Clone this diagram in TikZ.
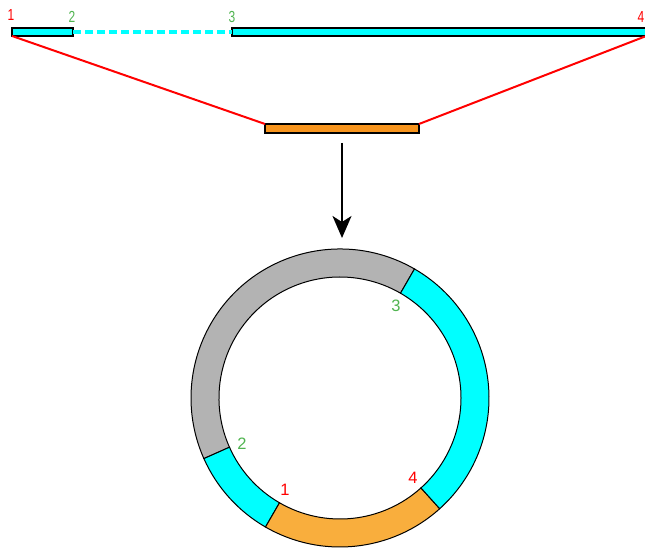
\documentclass[tikz,border=0pt]{standalone}
\usepackage{fontspec}
\setmainfont{Liberation Sans}
\usetikzlibrary{arrows.meta,calc}
\definecolor{cyanfill}{RGB}{0,255,255}
\definecolor{grayfill}{RGB}{179,179,179}
\definecolor{orangebar}{RGB}{247,148,29}
\definecolor{orangering}{RGB}{249,174,61}
\definecolor{labgreen}{RGB}{80,180,80}
\definecolor{labred}{RGB}{255,0,0}
\tikzset{
  barbox/.style={draw=black,line width=1.8pt,inner sep=0pt,outer sep=0pt},
  toplab/.style={inner sep=0pt,font=\fontsize{16}{16}\selectfont,xscale=0.75},
  ringlab/.style={inner sep=0pt,font=\fontsize{16.5}{16.5}\selectfont},
  redline/.style={draw=labred,line width=2pt},
  seg/.style={draw=black,line width=1pt}
}
\begin{document}
\begin{tikzpicture}[x=1pt,y=1pt]
\useasboundingbox (0,0) rectangle (645,548);
\clip (0,0) rectangle (645,548);
% top bars
\node[barbox,fill=cyanfill,minimum width=61,minimum height=8] (b1) at (42.5,516) {};
\node[barbox,fill=cyanfill,minimum width=416,minimum height=8] (b2) at (440,516) {};
\draw[cyanfill,line width=4pt,dash pattern=on 8pt off 4pt] (b1.east) -- (b2.west);
\coordinate (rend) at (645,511.5);
% labels top
\node[toplab,text=labred] (l1) at (11,532.5) {1};
\node[toplab,text=labgreen] (l2) at (72,531.5) {2};
\node[toplab,text=labgreen] (l3) at (232,530.5) {3};
\node[toplab,text=labred] (l4) at (641,530.5) {4};
% orange bar
\node[barbox,fill=orangebar,minimum width=154,minimum height=9] (ob) at (342,419.5) {};
\draw[redline] (b1.south west) -- (ob.north west);
\draw[redline] (rend) -- (ob.north east);
% arrow
\coordinate (astart) at (342,405);
\coordinate (aend) at (342,310);
\draw[line width=1.8pt,-{Stealth[length=22pt,width=19pt,inset=6pt]}] (astart) -- (aend);
% ring
\coordinate (c) at (340,150);
\def\Ro{149}\def\Ri{121}
\newcommand\ringseg[3]{%
  \filldraw[seg,fill=#3] ($(c)+(#1:\Ro)$) arc[start angle=#1,end angle=#2,radius=\Ro]
    -- ($(c)+(#2:\Ri)$) arc[start angle=#2,end angle=#1,radius=\Ri] -- cycle;}
\ringseg{60}{204}{grayfill}
\ringseg{204}{240}{cyanfill}
\ringseg{240}{312}{orangering}
\ringseg{-48}{60}{cyanfill}
% ring labels
\node[ringlab,text=labgreen] (r3) at (396,242) {3};
\node[ringlab,text=labgreen] (r2) at (242,104) {2};
\node[ringlab,text=labred] (r1) at (285,58) {1};
\node[ringlab,text=labred] (r4) at (413,70) {4};
\end{tikzpicture}
\end{document}
